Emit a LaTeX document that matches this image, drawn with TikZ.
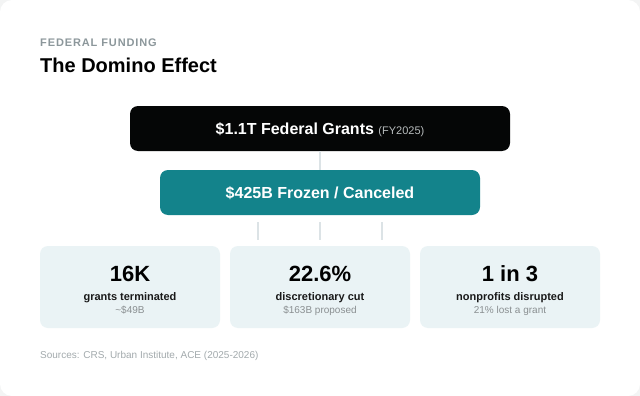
\documentclass[tikz,border=0pt]{standalone}
\usepackage{fontspec}
\setmainfont{Liberation Sans}
\definecolor{pagebg}{HTML}{F3F4F4}
\definecolor{topbox}{HTML}{050606}
\definecolor{tealbox}{HTML}{13838B}
\definecolor{cardbg}{HTML}{EAF3F5}
\definecolor{linkc}{HTML}{DCE3E6}
\definecolor{eyebrow}{HTML}{8C979B}
\definecolor{subgray}{HTML}{8A8F91}
\definecolor{srcgray}{HTML}{A3AAAD}
\definecolor{fygray}{HTML}{B8BCBD}
\tikzset{
  stagebox/.style={rounded corners=8pt, inner sep=0pt, text=white},
  statcard/.style={fill=cardbg, rounded corners=8pt, minimum width=180pt, minimum height=82pt, inner sep=0pt},
  link/.style={draw=linkc, line width=2pt},
  bignum/.style={anchor=base, font=\fontsize{22}{26}\selectfont\bfseries, text=black, inner sep=0pt},
  statlabel/.style={anchor=base, font=\fontsize{11}{13}\selectfont\bfseries, text=black!90, inner sep=0pt},
  statnote/.style={anchor=base, font=\fontsize{10}{12}\selectfont, text=subgray, inner sep=0pt}
}
\begin{document}
\begin{tikzpicture}[x=1pt,y=-1pt]
\fill[pagebg] (0,0) rectangle (640,396);
\fill[white, rounded corners=12pt] (0,0) rectangle (640,396);
\useasboundingbox (0,0) rectangle (640,396);

\node[anchor=base west, inner sep=0pt, text=eyebrow, font=\fontsize{11}{13}\selectfont\bfseries\addfontfeatures{LetterSpace=8}] (eyebrowtxt) at (40,47) {FEDERAL FUNDING};
\node[anchor=base west, inner sep=0pt, font=\fontsize{20}{24}\selectfont\bfseries] (title) at (40,73) {The Domino Effect};

\node[stagebox, fill=topbox, minimum width=380pt, minimum height=45pt] (grants) at (320,128.5) {};
\node[anchor=base, inner sep=0pt, text=white] (grantstxt) at (320,134) {\fontsize{16}{19}\selectfont\bfseries \$1.1T Federal Grants \fontsize{11}{13}\selectfont\mdseries\color{fygray}(FY2025)};

\node[stagebox, fill=tealbox, minimum width=320pt, minimum height=45pt] (frozen) at (320,192.5) {};
\node[anchor=base, inner sep=0pt, text=white, font=\fontsize{16}{19}\selectfont\bfseries] (frozentxt) at (320,198) {\$425B Frozen / Canceled};

\draw[link] (grants.south) -- (frozen.north);

\node[statcard] (c1) at (130,287) {};
\node[statcard] (c2) at (320,287) {};
\node[statcard] (c3) at (510,287) {};

\coordinate (l1a) at (258,222); \coordinate (l1b) at (258,240);
\coordinate (l3a) at (382,222); \coordinate (l3b) at (382,240);
\draw[link] (l1a) -- (l1b);
\draw[link] ([yshift=-7pt]frozen.south) -- ([yshift=6pt]c2.north);
\draw[link] (l3a) -- (l3b);

\node[bignum] (n1) at (130,281) {16K};
\node[statlabel] (s1) at (130,300) {grants terminated};
\node[statnote] (t1) at (130,313) {\textasciitilde\$49B};

\node[bignum] (n2) at (320,281) {22.6\%};
\node[statlabel] (s2) at (320,300) {discretionary cut};
\node[statnote] (t2) at (320,313) {\$163B proposed};

\node[bignum] (n3) at (510,281) {1 in 3};
\node[statlabel] (s3) at (510,300) {nonprofits disrupted};
\node[statnote] (t3) at (510,313) {21\% lost a grant};

\node[anchor=base west, inner sep=0pt, text=srcgray, font=\fontsize{10}{12}\selectfont] (src) at (40,358) {Sources: CRS, Urban Institute, ACE (2025-2026)};
\end{tikzpicture}
\end{document}
